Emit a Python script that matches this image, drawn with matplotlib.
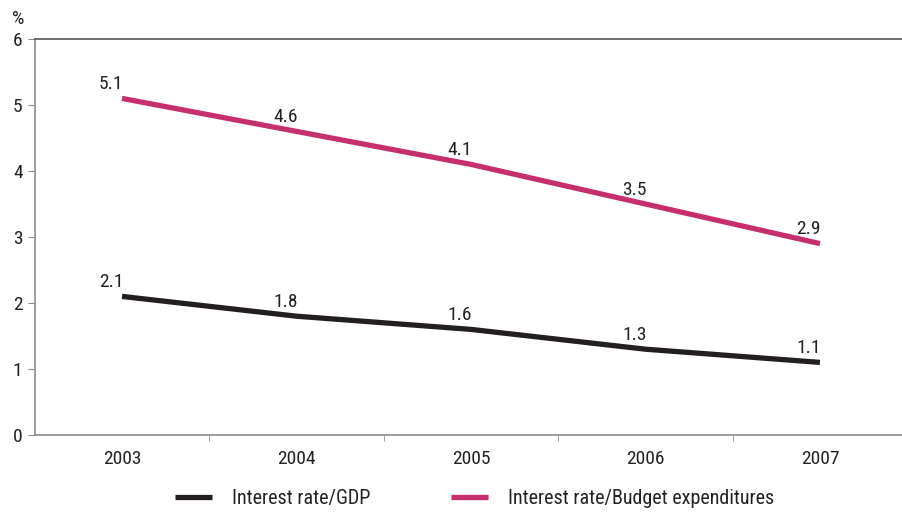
import matplotlib
matplotlib.use("Agg")
import matplotlib.pyplot as plt

years = ["2003", "2004", "2005", "2006", "2007"]
rate_gdp = [2.1, 1.8, 1.6, 1.3, 1.1]
rate_budget = [5.1, 4.6, 4.1, 3.5, 2.9]
series_names = ["Interest rate/GDP", "Interest rate/Budget expenditures"]

plt.rcParams['font.family'] = ['Liberation Sans Narrow', 'Roboto Condensed',
                               'Liberation Sans', 'DejaVu Sans']
plt.rcParams['font.size'] = 14

BLACK = "#231f20"
PINK = "#c62f6e"
GREY = "#8c8c8c"
TEXT = "#222222"

fig = plt.figure(figsize=(9.03, 5.12), dpi=100)
ax = fig.add_axes([0.0388, 0.1504, 0.9612, 0.7734])

x = list(range(len(years)))
ax.plot(x, rate_gdp, color=BLACK, lw=3.8, solid_capstyle='butt', label=series_names[0])
ax.plot(x, rate_budget, color=PINK, lw=3.8, solid_capstyle='butt', label=series_names[1])

# value labels sit above each point, slightly to the left
for ys in (rate_gdp, rate_budget):
    for xi, yi in zip(x, ys):
        ax.annotate(f"{yi:.1f}", (xi, yi), xytext=(-8, 6.8), textcoords='offset points',
                    ha='center', va='baseline', fontsize=14, color=TEXT)

ax.set_xlim(-0.4986, 4.476)
ax.set_ylim(0, 6)
ax.set_yticks(range(0, 7))
ax.set_xticks(x)
ax.set_xticklabels(years)
ax.set_xticks([0.5, 1.5, 2.5, 3.5], minor=True)
ax.tick_params(axis='x', which='major', length=0, pad=11, labelsize=14, colors=TEXT)
ax.tick_params(axis='x', which='minor', length=4, color=GREY, direction='out')
ax.tick_params(axis='y', length=5, color=GREY, pad=4, labelsize=14, labelcolor=TEXT)

for side in ['left', 'bottom', 'top']:
    ax.spines[side].set_color(GREY)
    ax.spines[side].set_linewidth(1.2)
ax.spines['top'].set_color("#555555")
ax.spines['right'].set_visible(False)

fig.text(0.013, 0.962, "%", fontsize=14, color=TEXT, va='center')

leg = fig.legend(loc='center', bbox_to_anchor=(0.5255, 0.027), ncol=2, frameon=False,
                 handlelength=1.84, handletextpad=0.99, columnspacing=4.0, fontsize=14.5)
for h in leg.get_lines():
    h.set_linewidth(3.8)
for t in leg.get_texts():
    t.set_color(TEXT)

fig.savefig("out.png", dpi=100)
